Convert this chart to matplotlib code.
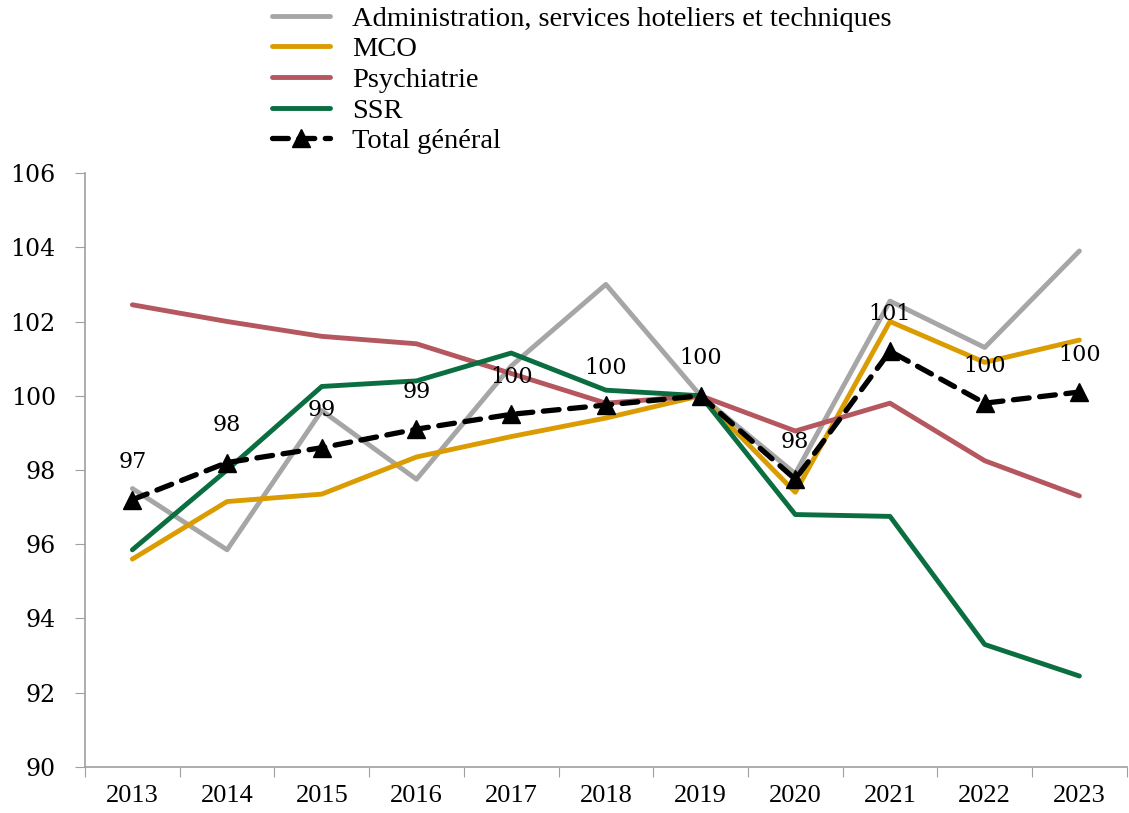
import matplotlib
matplotlib.use("Agg")
import matplotlib.pyplot as plt

years = ["2013", "2014", "2015", "2016", "2017", "2018", "2019", "2020", "2021", "2022", "2023"]
admin = [97.5, 95.85, 99.6, 97.75, 100.8, 103.0, 100.0, 97.9, 102.55, 101.3, 103.9]
mco = [95.6, 97.15, 97.35, 98.35, 98.9, 99.4, 100.0, 97.4, 102.0, 100.9, 101.5]
psy = [102.45, 102.0, 101.6, 101.4, 100.6, 99.8, 100.0, 99.05, 99.8, 98.25, 97.3]
ssr = [95.85, 98.0, 100.25, 100.4, 101.15, 100.15, 100.0, 96.8, 96.75, 93.3, 92.45]
total = [97.2, 98.2, 98.6, 99.1, 99.5, 99.75, 100.0, 97.75, 101.2, 99.8, 100.1]
labels = ["97", "98", "99", "99", "100", "100", "100", "98", "101", "100", "100"]
yticks = [90, 92, 94, 96, 98, 100, 102, 104, 106]

plt.rcParams['font.family'] = ['DejaVu Serif']
NARROW = ['Liberation Serif', 'DejaVu Serif']

fig = plt.figure(figsize=(11.29, 8.13), dpi=100)
ax = fig.add_axes([0.0753, 0.0566, 0.9227, 0.7306])
x = list(range(len(years)))

ax.plot(x, admin, color='#A6A6A6', lw=3.5, solid_capstyle='round', label='Administration, services hoteliers et techniques')
ax.plot(x, mco, color='#DA9C00', lw=3.5, solid_capstyle='round', label='MCO')
ax.plot(x, psy, color='#B5575F', lw=3.5, solid_capstyle='round', label='Psychiatrie')
ax.plot(x, ssr, color='#0A6E41', lw=3.5, solid_capstyle='round', label='SSR')
ax.plot(x, total, color='black', lw=3.8, dashes=(3, 2), dash_capstyle='round',
        marker='^', markersize=13, markerfacecolor='black', markeredgecolor='black',
        label='Total général')

for xi, yi, lab in zip(x, total, labels):
    ax.annotate(lab, (xi, yi), xytext=(0, 27), textcoords='offset points',
                ha='center', va='center', fontsize=16)

ax.set_xlim(-0.5, len(years) - 0.5)
ax.set_ylim(90, 106)
ax.set_yticks(yticks)
ax.set_yticklabels([str(v) for v in yticks], fontsize=17)
ax.set_xticks([i - 0.5 for i in range(len(years) + 1)])
ax.set_xticklabels([])
ax.set_xticks(x, minor=True)
ax.set_xticklabels(years, minor=True, fontsize=19, family=NARROW)
ax.tick_params(axis='x', which='minor', length=0, pad=13)
ax.tick_params(axis='x', which='major', length=7, color='#A0A0A0', direction='out')
ax.tick_params(axis='y', length=7, color='#A0A0A0', direction='out', pad=14)
for s in ['top', 'right']:
    ax.spines[s].set_visible(False)
for s in ['left', 'bottom']:
    ax.spines[s].set_color('#A0A0A0')
    ax.spines[s].set_linewidth(1.2)

handles, labs = ax.get_legend_handles_labels()
leg = fig.legend(handles, labs, loc='upper left', bbox_to_anchor=(0.2358, 1.0),
                 frameon=False, prop={'family': NARROW, 'size': 20.5},
                 handlelength=2.04, handletextpad=0.77, borderaxespad=0,
                 labelspacing=0.165, borderpad=0.2)

fig.savefig('out.png', dpi=100)
